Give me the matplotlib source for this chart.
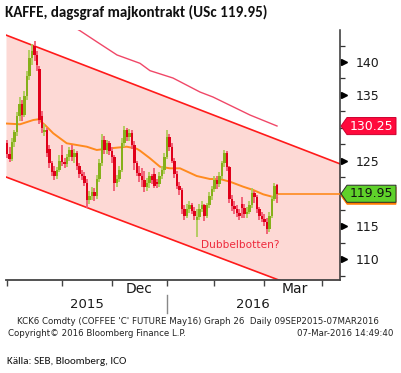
import matplotlib
matplotlib.use("Agg")
import matplotlib.pyplot as plt
from matplotlib.patches import Polygon
import matplotlib.transforms as mtransforms

# ---------------- data ----------------
opens = [127.6, 126.0, 125.3, 127.8, 129.3, 131.8, 133.6, 132.0, 134.8, 137.8,
         140.6, 142.4, 141.0, 139.0, 131.8, 129.4, 129.6, 126.8, 124.6, 123.4,
         122.6, 123.6, 125.8, 124.8, 124.5, 125.6, 126.6, 125.6, 126.2, 124.2,
         123.0, 122.6, 121.6, 119.0, 119.6, 120.2, 119.6, 122.2, 124.6, 128.2,
         126.6, 127.6, 126.5, 125.5, 121.6, 122.2, 123.6, 127.6, 129.6, 128.6,
         129.2, 127.4, 124.6, 123.1, 122.6, 122.0, 121.0, 121.6, 122.6, 123.0,
         121.8, 121.4, 122.6, 123.6, 125.6, 128.6, 127.0, 125.0, 123.0, 121.2,
         120.5, 117.6, 116.6, 117.6, 118.2, 117.4, 116.0, 116.4, 117.6, 118.2,
         116.6, 118.2, 119.6, 120.6, 122.1, 121.4, 122.6, 124.6, 126.1, 124.0,
         119.2, 118.1, 117.6, 117.0, 118.4, 117.8, 116.8, 117.2, 118.2, 120.1,
         119.4, 117.6, 116.6, 116.1, 115.6, 114.6, 116.6, 119.1, 121.3]
highs = [128.2, 127.0, 128.4, 129.6, 132.4, 134.6, 134.2, 135.6, 138.6, 141.8,
         142.8, 143.2, 141.6, 139.4, 132.6, 130.6, 130.0, 127.4, 125.0, 124.2,
         124.0, 125.8, 127.4, 125.4, 126.0, 127.0, 127.4, 126.8, 126.4, 124.6,
         123.6, 123.2, 122.2, 120.4, 121.0, 120.8, 122.8, 125.2, 129.0, 128.8,
         128.2, 128.0, 127.0, 125.8, 122.8, 124.2, 128.4, 130.2, 130.0, 129.8,
         129.6, 128.0, 125.0, 124.2, 123.8, 123.4, 122.4, 123.2, 123.0, 123.8,
         122.2, 123.2, 124.2, 126.2, 129.6, 129.0, 127.6, 125.4, 123.4, 121.8,
         120.8, 118.2, 118.4, 118.8, 118.6, 118.0, 117.6, 118.4, 118.8, 118.4,
         118.6, 120.2, 121.2, 122.6, 122.6, 123.2, 125.0, 126.6, 126.4, 124.2,
         119.8, 118.8, 118.2, 117.6, 119.4, 118.4, 118.0, 118.8, 120.8, 120.4,
         119.8, 118.0, 117.2, 116.8, 116.2, 117.2, 119.6, 121.6, 121.4]
lows = [125.4, 124.8, 125.0, 127.0, 128.8, 131.0, 131.0, 131.6, 134.2, 137.2,
        139.6, 140.2, 138.6, 130.6, 129.2, 128.8, 125.6, 123.8, 122.6, 122.0,
        122.2, 123.2, 124.2, 123.8, 124.0, 125.0, 125.0, 124.6, 123.6, 122.4,
        122.0, 121.2, 117.8, 118.4, 119.0, 118.8, 119.2, 121.8, 124.2, 126.0,
        126.0, 125.8, 124.6, 120.4, 121.0, 121.8, 123.2, 127.0, 128.0, 128.0,
        126.8, 123.6, 122.6, 121.8, 121.0, 120.2, 120.4, 120.8, 121.4, 120.8,
        120.8, 121.0, 122.2, 123.0, 125.2, 126.4, 124.6, 122.4, 120.6, 119.8,
        116.8, 116.0, 116.2, 117.0, 116.8, 116.0, 113.4, 116.0, 117.2, 115.8,
        116.2, 117.8, 119.0, 120.2, 120.6, 121.0, 122.2, 124.0, 123.4, 118.6,
        117.4, 116.8, 116.4, 116.0, 116.2, 116.2, 116.2, 116.8, 117.8, 118.6,
        117.0, 116.0, 115.6, 115.0, 113.8, 114.2, 116.2, 118.8, 118.6]
closes = [126.0, 125.3, 127.8, 129.3, 131.8, 133.6, 132.0, 134.8, 137.8, 140.6,
          141.6, 141.0, 139.6, 131.2, 130.0, 129.6, 126.2, 124.6, 123.2, 122.6,
          123.6, 125.0, 124.8, 124.5, 125.6, 126.6, 125.6, 126.2, 124.2, 123.0,
          122.6, 121.6, 119.0, 119.6, 120.2, 119.6, 122.2, 124.6, 128.2, 126.6,
          127.6, 126.5, 125.5, 121.6, 122.2, 123.6, 127.6, 129.6, 128.6, 129.2,
          127.4, 124.6, 123.1, 122.6, 122.0, 121.0, 121.6, 122.6, 122.1, 121.2,
          121.4, 122.6, 123.6, 125.6, 128.6, 127.0, 125.0, 123.0, 121.2, 120.5,
          117.6, 116.6, 117.6, 118.2, 117.4, 116.6, 116.4, 117.6, 118.2, 116.6,
          118.2, 119.6, 120.6, 122.1, 121.4, 122.6, 124.6, 126.1, 124.0, 119.2,
          118.1, 117.6, 117.0, 116.6, 117.8, 116.8, 117.2, 118.2, 120.1, 119.4,
          117.6, 116.6, 116.1, 115.6, 114.6, 116.6, 119.1, 121.1, 119.95]
days = list(range(len(closes)))

ma_x = [-0.4, 5.2, 10.5, 12.5, 15.2, 18.5, 23.9, 31.9, 35.9, 41.2, 47.9, 51.9,
        53.2, 57.2, 61.2, 65.2, 69.2, 75.9, 81.2, 85.2, 89.2, 94.5, 98.5, 102.5, 108]
ma_y = [130.64, 130.52, 131.17, 131.28, 130.41, 129.15, 127.63, 127.11, 126.61,
        126.86, 127.11, 126.8, 126.5, 125.34, 124.06, 123.82, 123.82, 122.65,
        122.19, 122.19, 121.78, 121.02, 120.52, 119.86, 119.3]

ma200_x = [27.2, 29.2, 35.9, 44.0, 53.2, 57.2, 66.4, 77.2, 82.4, 97.2, 108]
ma200_y = [145.2, 144.76, 143.08, 141.07, 139.8, 138.68, 137.56, 135.43, 134.67,
           131.93, 130.26]

chan_x = [-0.4, 133.2]
chan_upper = [144.1, 124.5]
chan_lower = [122.5, 103.3]

last_price = 119.95
ma200_last = 130.25

ytick_major = [110, 115, 125, 135, 140]
ytick_minor = [107.5, 112.5, 117.5, 120, 122.5, 127.5, 130, 132.5, 137.5, 142.5]
month_ticks = [0, 22, 42, 64, 83, 103, 126]
month_label_pos = [53, 115]
month_labels = ["Dec", "Mar"]
year_pos = [32, 98.5]
year_labels = ["2015", "2016"]
year_sep = 64

# ---------------- figure ----------------
W, H = 401, 373
fig = plt.figure(figsize=(W / 100, H / 100), dpi=100)
ax_l, ax_r, ax_t, ax_b = 6, 340, 30, 279.5
ax = fig.add_axes([ax_l / W, (H - ax_b) / H, (ax_r - ax_l) / W, (ax_b - ax_t) / H])
ax.set_xlim(-0.4, 133.2)
ax.set_ylim(106.9, 144.87)
ax.set_facecolor("white")

# channel
ax.fill_between(chan_x, chan_lower, chan_upper, color="#fdd9d5", lw=0, zorder=1)
ax.plot(chan_x, chan_upper, color="#ff1a1a", lw=1.2, zorder=2)
ax.plot(chan_x, chan_lower, color="#ff1a1a", lw=1.2, zorder=2)

# moving averages
ax.plot(ma200_x, ma200_y, color="#f04868", lw=1.0, zorder=3)
ax.plot(ma_x, ma_y, color="#ff8a1e", lw=1.4, zorder=5)
ax.plot([days[-1], 133.2], [last_price, last_price], color="#ff8a1e", lw=1.2, zorder=5)

# candles
green, red = "#86b01a", "#e0001a"
green_l, red_l = "#afcb5a", "#f05a72"
for d, o, h, l, c in zip(days, opens, highs, lows, closes):
    up = c >= o
    col = green if up else red
    wcol = green_l if up else red_l
    ax.vlines(d, l, h, color=wcol, lw=1.3, zorder=6)
    lo, hi = min(o, c), max(o, c)
    if hi - lo < 0.3:
        lo, hi = (lo + hi) / 2 - 0.15, (lo + hi) / 2 + 0.15
    ax.bar(d, hi - lo, bottom=lo, width=0.85, color=col, lw=0, zorder=7)

ax.text(77.6, 112.1, "Dubbelbotten?", color="#ee2a3c", fontsize=7.6,
        ha="left", va="center", zorder=8)

# axes styling
for s in ["left", "top"]:
    ax.spines[s].set_visible(False)
ax.spines["right"].set_color("#333333")
ax.spines["bottom"].set_color("#444444")
ax.spines["right"].set_linewidth(1.1)
ax.spines["bottom"].set_linewidth(1.3)
ax.yaxis.tick_right()
ax.set_yticks(ytick_major)
ax.set_yticklabels([str(v) for v in ytick_major])
ax.set_yticks(ytick_minor, minor=True)
ax.tick_params(axis="y", which="major", length=0, pad=11, labelsize=9,
               labelcolor="#1a1a1a")
ax.tick_params(axis="y", which="minor", length=3.5, width=0.9, color="#333333")

ax.set_xticks(month_ticks)
ax.set_xticklabels([""] * len(month_ticks))
ax.set_xticks(month_label_pos, minor=True)
ax.set_xticklabels(month_labels, minor=True)
ax.tick_params(axis="x", which="major", length=4, width=1.0, color="#444444")
ax.tick_params(axis="x", which="minor", length=0, pad=2, labelsize=10,
               labelcolor="#1a1a1a")

blend_y = mtransforms.blended_transform_factory(ax.transAxes, ax.transData)
blend_x = mtransforms.blended_transform_factory(ax.transData, ax.transAxes)
ax.plot([1.012] * len(ytick_major), ytick_major, transform=blend_y, ls="none",
        marker=">", ms=5, color="black", clip_on=False, zorder=10)

# year labels and separator
for p, lab in zip(year_pos, year_labels):
    ax.text(p, -0.1, lab, transform=blend_x, ha="center", va="center",
            fontsize=9.5, color="#1a1a1a")
ax.plot([year_sep, year_sep], [-0.064, -0.133], transform=blend_x,
        color="#888888", lw=1.0, clip_on=False)

# price label boxes
axw = ax_r - ax_l
def fx(px):
    return (px - ax_l) / axw

def label_box(price, face, txtcol, edge, shadow=None):
    h = 1.3
    tip, x0, x1 = fx(341), fx(347), fx(396)
    if shadow is not None:
        d = 0.3
        ax.add_patch(Polygon([(tip, price - d), (x0, price + h - d), (x1, price + h - d),
                              (x1, price - h - d), (x0, price - h - d)], closed=True,
                             transform=blend_y, facecolor=shadow, edgecolor=shadow,
                             lw=0.6, clip_on=False, zorder=11))
    ax.add_patch(Polygon([(tip, price), (x0, price + h), (x1, price + h),
                          (x1, price - h), (x0, price - h)], closed=True,
                         transform=blend_y, facecolor=face, edgecolor=edge,
                         lw=0.7, clip_on=False, zorder=12))
    ax.text((x0 + x1) / 2, price, f"{price:.2f}", transform=blend_y, ha="center",
            va="center", fontsize=9, color=txtcol, zorder=13)

label_box(ma200_last, "#ff0a3c", "white", "#cc0030")
label_box(last_price, "#5fd12a", "#111111", "#2a2a2a", shadow="#ff7a00")

# texts
def ftxt(px, py, s, **kw):
    fig.text(px / W, 1 - py / H, s, **kw)

ftxt(5, 12.5, "KAFFE, dagsgraf majkontrakt (USc 119.95)",
     family=["Carlito", "DejaVu Sans"], fontweight="bold",
     fontsize=10.9, va="center", ha="left", color="#111111")
ftxt(17, 321, "KCK6 Comdty (COFFEE 'C' FUTURE May16) Graph 26  Daily 09SEP2015-07MAR2016",
     fontsize=6.2, va="center", ha="left", color="#222222")
ftxt(8, 333, "Copyright\u00a9 2016 Bloomberg Finance L.P.",
     fontsize=6.2, va="center", ha="left", color="#222222")
ftxt(393, 333, "07-Mar-2016 14:49:40",
     fontsize=6.2, va="center", ha="right", color="#222222")
ftxt(7, 362, "Källa: SEB, Bloomberg, ICO",
     family=["Carlito", "DejaVu Sans"],
     fontsize=8, va="center", ha="left", color="#111111")

fig.savefig("out.png", dpi=100)
